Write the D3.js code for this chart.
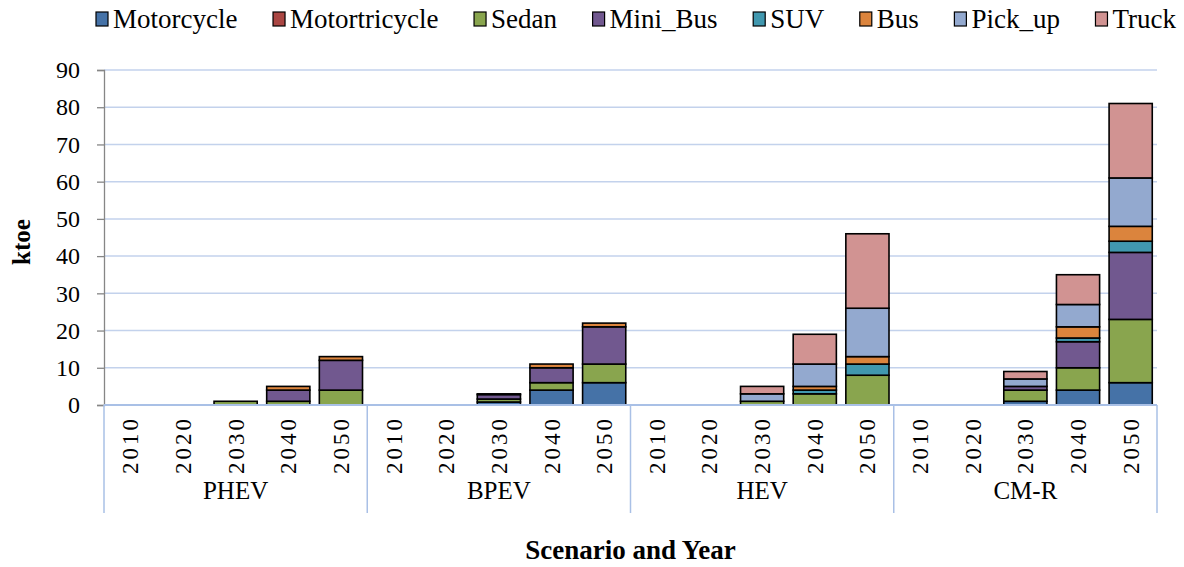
<!DOCTYPE html>
<html>
<head>
<meta charset="utf-8">
<script src="https://cdn.jsdelivr.net/npm/d3@7"></script>
<style>
  body { margin: 0; background: #fff; }
  svg text { font-family: "Liberation Serif", "Times New Roman", serif !important; fill: #000; }
</style>
</head>
<body>
<div id="chart"></div>
<script>
// series names and colours
const series = ["Motorcycle", "Motortricycle", "Sedan", "Mini_Bus", "SUV", "Bus", "Pick_up", "Truck"];
const colors = ["#4572A7", "#AA4643", "#89A54E", "#71588F", "#4198AF", "#DB843D", "#93A9CF", "#D19392"];

const scenarios = ["PHEV", "BPEV", "HEV", "CM-R"];
const years = ["2010", "2020", "2030", "2040", "2050"];
const yTicks = [0, 10, 20, 30, 40, 50, 60, 70, 80, 90];

// values in ktoe, one row per year
// order: Motorcycle, Motortricycle, Sedan, Mini_Bus, SUV, Bus, Pick_up, Truck
const PHEV = [
  [0, 0, 0, 0, 0, 0, 0, 0],
  [0, 0, 0, 0, 0, 0, 0, 0],
  [0, 0, 1, 0, 0, 0, 0, 0],
  [0, 0, 1, 3, 0, 1, 0, 0],
  [0, 0, 4, 8, 0, 1, 0, 0]
];
const BPEV = [
  [0, 0, 0, 0, 0, 0, 0, 0],
  [0, 0, 0, 0, 0, 0, 0, 0],
  [0.8, 0, 0.8, 1.2, 0, 0.2, 0, 0],
  [4, 0, 2, 4, 0, 1, 0, 0],
  [6, 0, 5, 10, 0, 1, 0, 0]
];
const HEV = [
  [0, 0, 0, 0, 0, 0, 0, 0],
  [0, 0, 0, 0, 0, 0, 0, 0],
  [0, 0, 1, 0, 0, 0, 2, 2],
  [0, 0, 3, 0, 1, 1, 6, 8],
  [0, 0, 8, 0, 3, 2, 13, 20]
];
const CMR = [
  [0, 0, 0, 0, 0, 0, 0, 0],
  [0, 0, 0, 0, 0, 0, 0, 0],
  [1, 0, 3, 1, 0, 0, 2, 2],
  [4, 0, 6, 7, 1, 3, 6, 8],
  [6, 0, 17, 18, 3, 4, 13, 20]
];
const scenarioValues = [PHEV, BPEV, HEV, CMR];

// flatten into rows for stacking
const rows = [];
scenarios.forEach((s, i) => {
  years.forEach((y, j) => {
    const row = { key: s + "|" + y, scenario: s, year: y };
    series.forEach((name, k) => { row[name] = scenarioValues[i][j][k]; });
    rows.push(row);
  });
});

const width = 1184, height = 567;
const margin = { top: 70, right: 27, bottom: 162, left: 104 };

const svg = d3.select("#chart").append("svg")
  .attr("width", width)
  .attr("height", height)
  .attr("font-family", "Liberation Serif");

const x = d3.scaleBand()
  .domain(rows.map(d => d.key))
  .range([margin.left, width - margin.right])
  .paddingInner(0.18)
  .paddingOuter(0.09);

const y = d3.scaleLinear()
  .domain([0, 90])
  .range([height - margin.bottom, margin.top]);

const color = d3.scaleOrdinal().domain(series).range(colors);

// gridlines
svg.append("g")
  .selectAll("line")
  .data(yTicks.slice(1))
  .join("line")
  .attr("x1", margin.left)
  .attr("x2", width - margin.right)
  .attr("y1", d => y(d))
  .attr("y2", d => y(d))
  .attr("stroke", "#C3D2EC")
  .attr("stroke-width", 1.5);

// y axis
const yAxis = svg.append("g")
  .attr("transform", `translate(${margin.left},0)`)
  .call(d3.axisLeft(y).tickValues(yTicks).tickSize(7).tickPadding(17));
yAxis.attr("font-family", null);
yAxis.select(".domain").attr("stroke", "#868686").attr("stroke-width", 1.3);
yAxis.selectAll(".tick line").attr("stroke", "#868686").attr("stroke-width", 1.3);
yAxis.selectAll(".tick text")
  .style("font-size", "24px")
  .attr("fill", "#000");

// stacked bars
const stack = d3.stack().keys(series);
const layers = stack(rows);

svg.append("g")
  .selectAll("g")
  .data(layers)
  .join("g")
  .attr("fill", d => color(d.key))
  .selectAll("rect")
  .data(d => d.filter(p => p[1] - p[0] > 0))
  .join("rect")
  .attr("x", d => x(d.data.key))
  .attr("width", x.bandwidth())
  .attr("y", d => y(d[1]))
  .attr("height", d => y(d[0]) - y(d[1]))
  .attr("stroke", "#000")
  .attr("stroke-width", 1.6);

// category axis
const base = y(0);
const groupWidth = (width - margin.right - margin.left) / scenarios.length;
const axisG = svg.append("g");

axisG.append("line")
  .attr("x1", margin.left)
  .attr("x2", width - margin.right)
  .attr("y1", base)
  .attr("y2", base)
  .attr("stroke", "#A9C0E6")
  .attr("stroke-width", 2);

d3.range(scenarios.length + 1).forEach(i => {
  axisG.append("line")
    .attr("x1", margin.left + i * groupWidth)
    .attr("x2", margin.left + i * groupWidth)
    .attr("y1", base)
    .attr("y2", base + 108)
    .attr("stroke", "#A9C0E6")
    .attr("stroke-width", 1.5);
});

// year labels
axisG.selectAll(".yr")
  .data(rows)
  .join("text")
  .attr("class", "yr")
  .attr("transform", d => `translate(${x(d.key) + x.bandwidth() / 2 + 8},${base + 11}) rotate(-90)`)
  .attr("text-anchor", "end")
  .style("font-size", "23px")
  .style("letter-spacing", "3px")
  .text(d => d.year);

// scenario labels
axisG.selectAll(".sc")
  .data(scenarios)
  .join("text")
  .attr("class", "sc")
  .attr("x", (d, i) => margin.left + (i + 0.5) * groupWidth)
  .attr("y", base + 94)
  .attr("text-anchor", "middle")
  .style("font-size", "25px")
  .text(d => d);

// axis titles
svg.append("text")
  .attr("x", margin.left + (width - margin.right - margin.left) / 2)
  .attr("y", 559)
  .attr("text-anchor", "middle")
  .style("font-size", "27px")
  .style("font-weight", "bold")
  .text("Scenario and Year");

svg.append("text")
  .attr("transform", "translate(30,242) rotate(-90)")
  .attr("text-anchor", "middle")
  .style("font-size", "25px")
  .style("font-weight", "bold")
  .text("ktoe");

// legend
const legend = svg.append("g").attr("transform", "translate(96,19)");
const items = legend.selectAll("g")
  .data(series)
  .join("g");

items.append("rect")
  .attr("x", 0)
  .attr("y", -7)
  .attr("width", 12)
  .attr("height", 14)
  .attr("fill", d => color(d))
  .attr("stroke", "#000")
  .attr("stroke-width", 1.2);

items.append("text")
  .attr("x", 17)
  .attr("y", 0)
  .attr("dy", "0.35em")
  .style("font-size", "27px")
  .text(d => d);

const widths = [];
items.each(function () { widths.push(17 + d3.select(this).select("text").node().getComputedTextLength()); });
const totalW = 1176 - 96;
const gap = (totalW - d3.sum(widths)) / (series.length - 1);
let pos = 0;
items.each(function (d, i) {
  d3.select(this).attr("transform", `translate(${pos},0)`);
  pos += widths[i] + gap;
});
</script>
</body>
</html>
